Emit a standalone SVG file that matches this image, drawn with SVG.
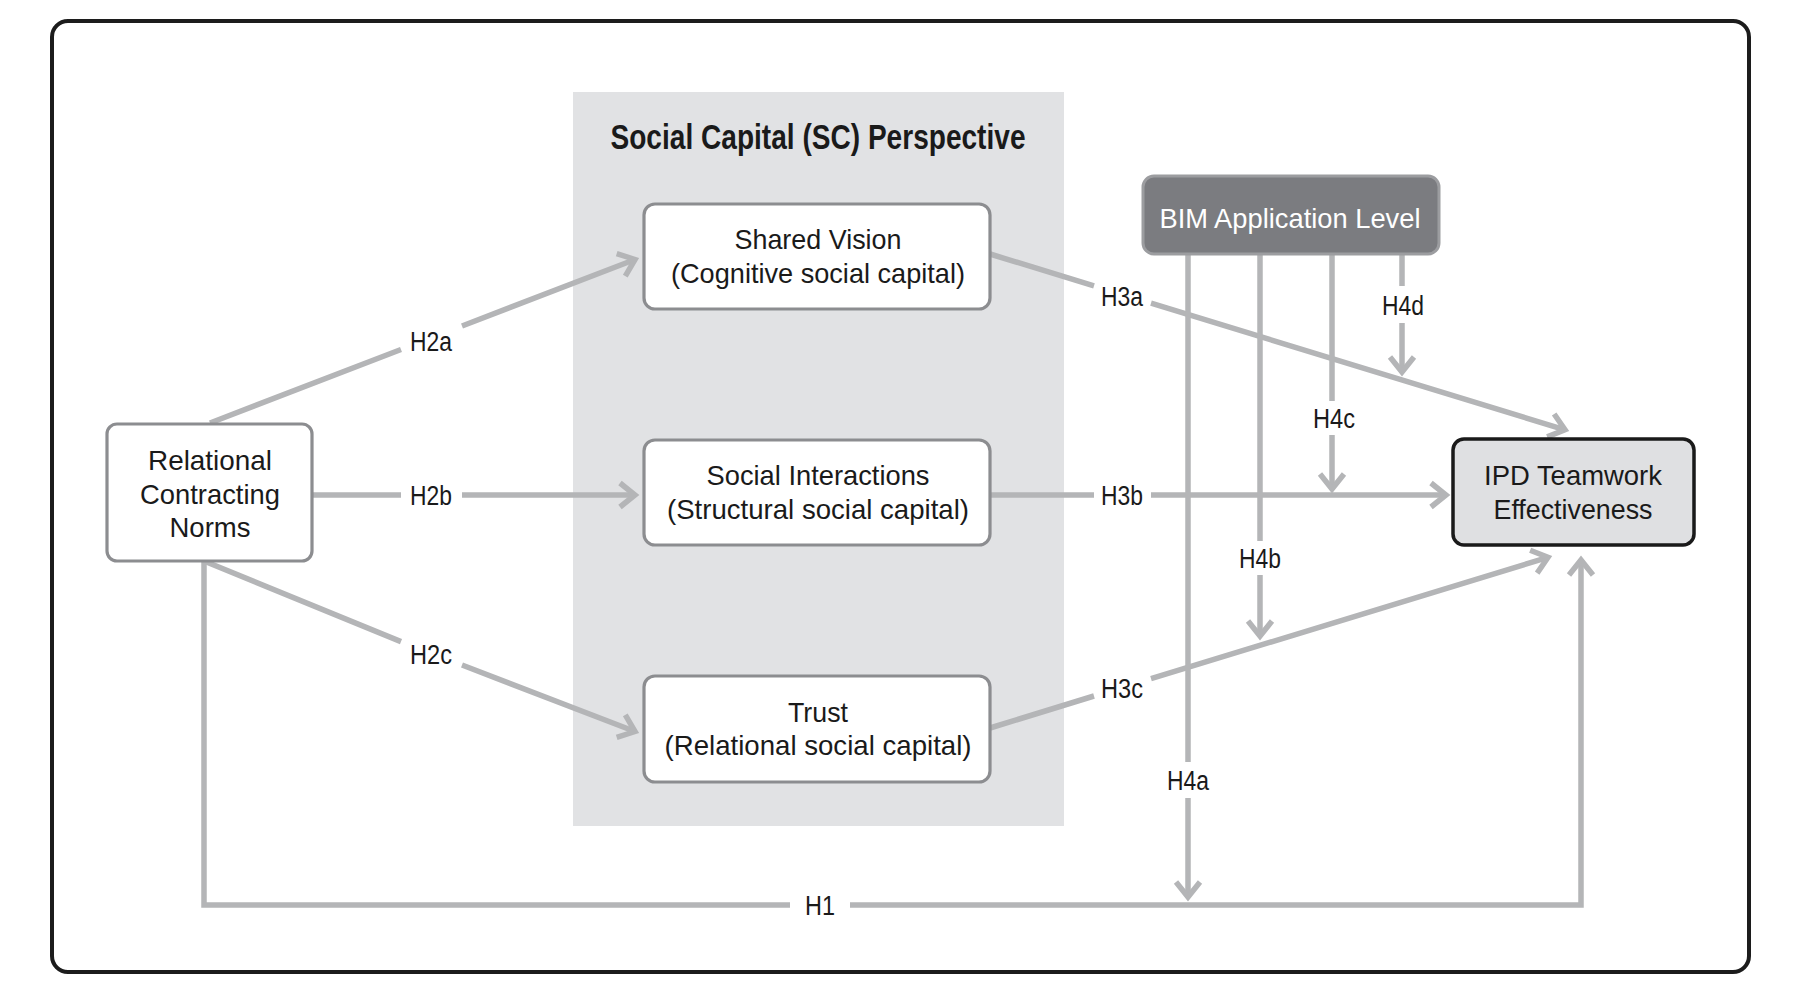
<svg xmlns="http://www.w3.org/2000/svg" width="1796" height="998" viewBox="0 0 1796 998">
<defs>
<style>
.t{font-family:"Liberation Sans Narrow","Liberation Sans",Arial,sans-serif;font-size:28px;fill:#1a1a1a;text-anchor:middle}
.lb{font-family:"Liberation Sans Narrow","Liberation Sans",Arial,sans-serif;font-size:27px;fill:#1a1a1a;text-anchor:middle}
.ttl{font-family:"Liberation Sans Narrow","Liberation Sans",Arial,sans-serif;font-size:35px;font-weight:bold;fill:#1a1a1a;text-anchor:middle}
.box{fill:#ffffff;stroke:#8c8d90;stroke-width:3.2}
.c{fill:none;stroke:#b4b5b7;stroke-width:5.5;stroke-linecap:butt;stroke-linejoin:miter}
</style>
<marker id="arr" markerUnits="userSpaceOnUse" markerWidth="40" markerHeight="40" viewBox="-20 -20 40 40" refX="0" refY="0" orient="auto" overflow="visible">
<path d="M-15,-12 L0,0 L-15,12" fill="none" stroke="#b4b5b7" stroke-width="5.5" stroke-linejoin="miter"/>
</marker>
</defs>
<rect x="0" y="0" width="1796" height="998" fill="#ffffff"/>
<rect id="frame" x="52" y="21" width="1697" height="951" rx="16" fill="#ffffff" stroke="#1c1c1c" stroke-width="4"/>
<g id="sc-panel">
<rect x="573" y="92" width="491" height="734" fill="#e1e2e4"/>
<text class="ttl" x="818" y="149" textLength="415" lengthAdjust="spacingAndGlyphs">Social Capital (SC) Perspective</text>
</g>
<g id="connectors">
<path class="c" d="M210,423 L401,349.5 M462,326 L635,259.5" marker-end="url(#arr)"/>
<path class="c" d="M311.5,495 L401,495 M462,495 L635,495" marker-end="url(#arr)"/>
<path class="c" d="M204,561 L401,641.6 M462,665 L635,731.5" marker-end="url(#arr)"/>
<path class="c" d="M990,254 L1094,285.8 M1151,303.2 L1565,429.8" marker-end="url(#arr)"/>
<path class="c" d="M990,495 L1094,495 M1151,495 L1446,495" marker-end="url(#arr)"/>
<path class="c" d="M990,728 L1094,696 M1151,678.7 L1548,557.3" marker-end="url(#arr)"/>
<path class="c" d="M204,561 L204,905 L790,905"/>
<path class="c" d="M850,905 L1581,905 L1581,560" marker-end="url(#arr)"/>
<path class="c" d="M1188,254 L1188,762 M1188,798 L1188,897" marker-end="url(#arr)"/>
<path class="c" d="M1260,254 L1260,541 M1260,575 L1260,636" marker-end="url(#arr)"/>
<path class="c" d="M1332,254 L1332,401 M1332,435 L1332,489" marker-end="url(#arr)"/>
<path class="c" d="M1402,254 L1402,286 M1402,323 L1402,372" marker-end="url(#arr)"/>
<text class="lb" x="431" y="351" textLength="42" lengthAdjust="spacingAndGlyphs">H2a</text>
<text class="lb" x="431" y="505" textLength="42" lengthAdjust="spacingAndGlyphs">H2b</text>
<text class="lb" x="431" y="664" textLength="42" lengthAdjust="spacingAndGlyphs">H2c</text>
<text class="lb" x="1122" y="306" textLength="42" lengthAdjust="spacingAndGlyphs">H3a</text>
<text class="lb" x="1122" y="505" textLength="42" lengthAdjust="spacingAndGlyphs">H3b</text>
<text class="lb" x="1122" y="698" textLength="42" lengthAdjust="spacingAndGlyphs">H3c</text>
<text class="lb" x="820" y="915" textLength="30" lengthAdjust="spacingAndGlyphs">H1</text>
<text class="lb" x="1188" y="790" textLength="42" lengthAdjust="spacingAndGlyphs">H4a</text>
<text class="lb" x="1260" y="568" textLength="42" lengthAdjust="spacingAndGlyphs">H4b</text>
<text class="lb" x="1334" y="428" textLength="42" lengthAdjust="spacingAndGlyphs">H4c</text>
<text class="lb" x="1403" y="315" textLength="42" lengthAdjust="spacingAndGlyphs">H4d</text>
</g>
<g id="rcn">
<rect class="box" x="107" y="424" width="205" height="137" rx="10"/>
<text class="t" x="210" y="470" textLength="124" lengthAdjust="spacingAndGlyphs">Relational</text>
<text class="t" x="210" y="504" textLength="140" lengthAdjust="spacingAndGlyphs">Contracting</text>
<text class="t" x="210" y="537" textLength="81" lengthAdjust="spacingAndGlyphs">Norms</text>
</g>
<g id="shared-vision">
<rect class="box" x="644" y="204" width="346" height="105" rx="11"/>
<text class="t" x="818" y="249" textLength="167" lengthAdjust="spacingAndGlyphs">Shared Vision</text>
<text class="t" x="818" y="283" textLength="294" lengthAdjust="spacingAndGlyphs">(Cognitive social capital)</text>
</g>
<g id="social-interactions">
<rect class="box" x="644" y="440" width="346" height="105" rx="11"/>
<text class="t" x="818" y="485" textLength="223" lengthAdjust="spacingAndGlyphs">Social Interactions</text>
<text class="t" x="818" y="519" textLength="302" lengthAdjust="spacingAndGlyphs">(Structural social capital)</text>
</g>
<g id="trust">
<rect class="box" x="644" y="676" width="346" height="106" rx="11"/>
<text class="t" x="818" y="722" textLength="60" lengthAdjust="spacingAndGlyphs">Trust</text>
<text class="t" x="818" y="755" textLength="307" lengthAdjust="spacingAndGlyphs">(Relational social capital)</text>
</g>
<g id="bim">
<rect x="1143" y="176" width="296" height="78" rx="11" fill="#7b7c80" stroke="#9c9da0" stroke-width="3"/>
<text class="t" x="1290" y="228" textLength="261" lengthAdjust="spacingAndGlyphs" style="fill:#ffffff">BIM Application Level</text>
</g>
<g id="ipd">
<rect x="1453" y="439" width="241" height="106" rx="11" fill="#dfe0e2" stroke="#1a1a1a" stroke-width="3.5"/>
<text class="t" x="1573" y="485" textLength="178" lengthAdjust="spacingAndGlyphs">IPD Teamwork</text>
<text class="t" x="1573" y="519" textLength="159" lengthAdjust="spacingAndGlyphs">Effectiveness</text>
</g>
</svg>
